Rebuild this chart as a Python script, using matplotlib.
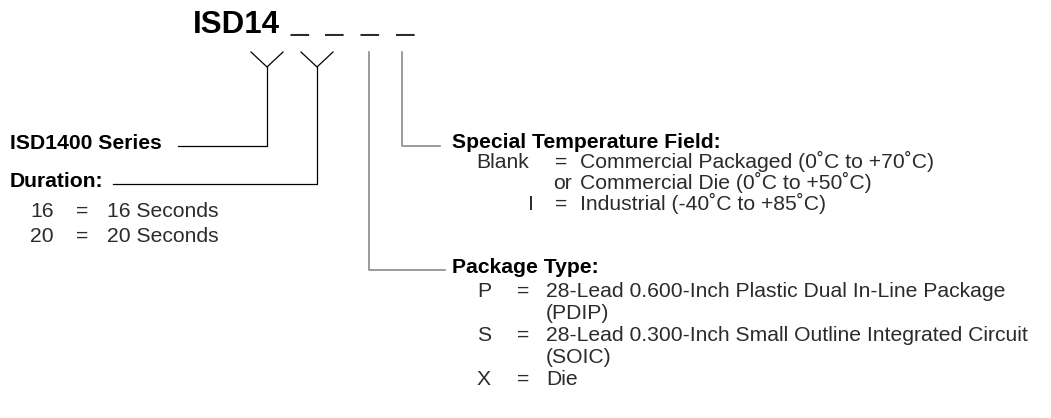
import matplotlib.pyplot as plt

# Part number and its fields
part_prefix = "ISD14"
field_slots = "_  _  _  _"

series_label = "ISD1400 Series"

duration_title = "Duration:"
duration_codes = ["16", "20"]
duration_desc = ["16 Seconds", "20 Seconds"]

temp_title = "Special Temperature Field:"
temp_codes = ["Blank", "or", "I"]
temp_eq = ["=", "", "="]
temp_desc = [
    "Commercial Packaged (0˚C to +70˚C)",
    "Commercial Die (0˚C to +50˚C)",
    "Industrial (-40˚C to +85˚C)",
]

package_title = "Package Type:"
package_codes = ["P", "", "S", "", "X"]
package_eq = ["=", "", "=", "", "="]
package_desc = [
    "28-Lead 0.600-Inch Plastic Dual In-Line Package",
    "(PDIP)",
    "28-Lead 0.300-Inch Small Outline Integrated Circuit",
    "(SOIC)",
    "Die",
]

plt.rcParams["font.family"] = ["Liberation Sans", "DejaVu Sans"]

FS = 15.2
TXT = "#2b2b2b"
GRAY = "#8a8a8a"
OFF = 7  # center -> baseline offset in px

fig = plt.figure(figsize=(10.51, 4.18), dpi=100)
ax = fig.add_axes([0, 0, 1, 1])
ax.set_xlim(0, 1051)
ax.set_ylim(418, 0)
ax.axis("off")


def put(x, y, s, bold=False, ha="left", size=FS):
    ax.text(x, y + OFF, s, fontsize=size, ha=ha, va="baseline",
            color="black" if bold else TXT,
            fontweight="bold" if bold else "normal")


# header
ax.text(193, 33, part_prefix, fontsize=22.5, fontweight="bold", va="baseline", color="black")
ax.text(290, 30, field_slots, fontsize=23, va="baseline", color=TXT)

# Y shaped connectors for the two digit fields
for cx in [267, 317]:
    ax.plot([cx - 16, cx, cx + 16], [52, 67, 52], color="black", lw=0.9)

# leader lines
ax.plot([267, 267, 178], [67, 146, 146], color="black", lw=0.9)
ax.plot([317, 317, 113], [67, 184, 184], color="black", lw=0.9)
ax.plot([369, 369, 445], [52, 270, 270], color=GRAY, lw=1.2)
ax.plot([402, 402, 440], [52, 146, 146], color=GRAY, lw=1.2)

# left side
put(10, 142, series_label, bold=True)
put(10, 180, duration_title, bold=True)
for i, (c, d) in enumerate(zip(duration_codes, duration_desc)):
    y = 210 + i * 25
    put(30, y, c)
    put(82, y, "=", ha="center")
    put(107, y, d)

# special temperature field
put(452, 141, temp_title, bold=True)
temp_x = {"Blank": 476, "or": 553, "I": 528}
for i, (c, e, d) in enumerate(zip(temp_codes, temp_eq, temp_desc)):
    y = 161 + i * 21
    put(temp_x[c], y, c)
    if e:
        put(561, y, e, ha="center")
    put(580, y, d)

# package type
put(452, 266, package_title, bold=True)
for i, (c, e, d) in enumerate(zip(package_codes, package_eq, package_desc)):
    y = 290 + i * 22
    if c:
        put(477, y, c)
    if e:
        put(523, y, e, ha="center")
    put(546, y, d)

fig.savefig("out.png", dpi=100)
